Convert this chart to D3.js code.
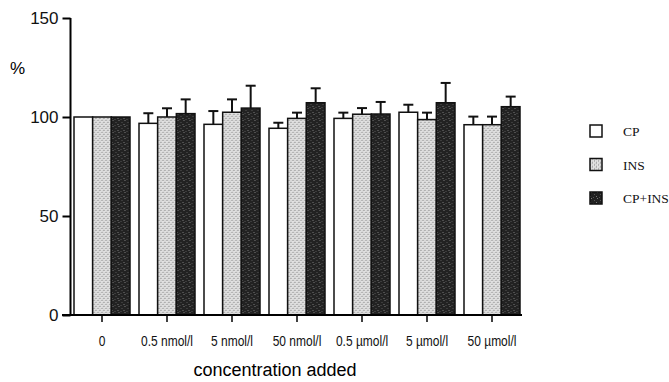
<!DOCTYPE html>
<html>
<head>
<meta charset="utf-8">
<script src="https://cdn.jsdelivr.net/npm/d3@7"></script>
<style>
  body { margin: 0; background: #fff; }
  svg { display: block; }
</style>
</head>
<body>
<div id="chart"></div>
<script>
const categories = ['0', '0.5 nmol/l', '5 nmol/l', '50 nmol/l', '0.5 µmol/l', '5 µmol/l', '50 µmol/l'];
const seriesNames = ['CP', 'INS', 'CP+INS'];
const cpValues     = [100, 96.8, 96.3, 94.3, 99.3, 102.4, 96.1];
const cpErrors     = [0, 5.1, 6.7, 2.8, 2.9, 3.8, 4.1];
const insValues    = [100, 100, 102.4, 99.3, 101.4, 98.7, 96.1];
const insErrors    = [0, 4.4, 6.5, 2.9, 3.1, 3.5, 4.1];
const cpInsValues  = [100, 101.7, 104.5, 107.2, 101.5, 107.2, 105.2];
const cpInsErrors  = [0, 7.2, 11.3, 7.3, 6.1, 10.0, 5.1];
const yTicks = [0, 50, 100, 150];

const width = 669, height = 382;
const svg = d3.select('#chart').append('svg')
  .attr('width', width)
  .attr('height', height);

// stipple patterns, like the scanned print
const defs = svg.append('defs');
const light = defs.append('pattern')
  .attr('id', 'pat-ins').attr('patternUnits', 'userSpaceOnUse')
  .attr('width', 4).attr('height', 4);
light.append('rect').attr('width', 4).attr('height', 4).attr('fill', '#e2e2e2');
[[0, 0], [2, 2], [2, 0.5], [0.5, 2.5]].forEach(([px, py], i) => {
  light.append('rect').attr('x', px).attr('y', py).attr('width', 1).attr('height', 1)
    .attr('fill', i < 2 ? '#888' : '#b5b5b5');
});
const dark = defs.append('pattern')
  .attr('id', 'pat-cpins').attr('patternUnits', 'userSpaceOnUse')
  .attr('width', 6).attr('height', 6);
dark.append('rect').attr('width', 6).attr('height', 6).attr('fill', '#222');
[[1, 0], [4, 2], [0, 4], [3, 5]].forEach(([px, py], i) => {
  dark.append('rect').attr('x', px).attr('y', py).attr('width', 1).attr('height', 1)
    .attr('fill', i % 2 ? '#555' : '#7a7a7a');
});
const fills = ['#ffffff', 'url(#pat-ins)', 'url(#pat-cpins)'];

const x = d3.scaleBand().domain(categories).range([69.5, 524.5]).padding(0);
const xSub = d3.scaleBand().domain(seriesNames).range([4.5, 60.5]).padding(0);
const y = d3.scaleLinear().domain([0, 150]).range([315, 18]);

const rows = categories.map((c, i) => ({
  cat: c,
  bars: [
    { name: 'CP', value: cpValues[i], err: cpErrors[i] },
    { name: 'INS', value: insValues[i], err: insErrors[i] },
    { name: 'CP+INS', value: cpInsValues[i], err: cpInsErrors[i] }
  ]
}));

const groups = svg.selectAll('g.grp')
  .data(rows)
  .enter()
  .append('g')
  .attr('class', 'grp')
  .attr('transform', d => `translate(${x(d.cat)},0)`);

// error bars (upper only) drawn first so the bar outline sits over them
groups.selectAll('g.err')
  .data(d => d.bars.filter(b => b.err > 0))
  .enter()
  .append('g')
  .attr('class', 'err')
  .each(function (d) {
    const g = d3.select(this);
    const cx = xSub(d.name) + xSub.bandwidth() / 2;
    g.append('line')
      .attr('x1', cx).attr('x2', cx)
      .attr('y1', y(d.value)).attr('y2', y(d.value + d.err))
      .attr('stroke', '#111').attr('stroke-width', 2);
    g.append('line')
      .attr('x1', cx - 5).attr('x2', cx + 5)
      .attr('y1', y(d.value + d.err)).attr('y2', y(d.value + d.err))
      .attr('stroke', '#111').attr('stroke-width', 2);
  });

groups.selectAll('rect')
  .data(d => d.bars)
  .enter()
  .append('rect')
  .attr('x', d => xSub(d.name))
  .attr('y', d => y(d.value))
  .attr('width', xSub.bandwidth())
  .attr('height', d => y(0) - y(d.value))
  .attr('fill', (d, i) => fills[i])
  .attr('stroke', '#111')
  .attr('stroke-width', 1.5);

// y axis
const yAxis = svg.append('g')
  .attr('transform', 'translate(70.5,0)')
  .call(d3.axisLeft(y).tickValues(yTicks).tickSize(8).tickPadding(4));
yAxis.select('.domain').attr('d', `M0,${y(150)}V${y(0)}`).attr('stroke-width', 2);
yAxis.selectAll('.tick line').attr('stroke-width', 2);
yAxis.selectAll('text')
  .style('font-family', '"Liberation Sans", Arial, sans-serif')
  .style('font-size', '17px')
  .attr('fill', '#111');

// x axis, labels squeezed to mimic the narrow print face
const xAxis = svg.append('g')
  .attr('transform', `translate(0,${y(0)})`)
  .call(d3.axisBottom(x).tickSize(7).tickPadding(13));
xAxis.select('.domain').attr('d', 'M62,0H522').attr('stroke-width', 2);
xAxis.selectAll('.tick line').attr('stroke-width', 1.5);
xAxis.selectAll('text')
  .style('font-family', '"Liberation Sans", Arial, sans-serif')
  .style('font-size', '15px')
  .attr('transform', 'scale(0.8,1)')
  .attr('fill', '#111');

svg.append('text')
  .attr('x', 10).attr('y', 74)
  .style('font-family', '"Liberation Sans", Arial, sans-serif')
  .style('font-size', '17px')
  .text('%');

svg.append('text')
  .attr('x', 275).attr('y', 376)
  .attr('text-anchor', 'middle')
  .style('font-family', '"Liberation Sans", Arial, sans-serif')
  .style('font-size', '18px')
  .text('concentration added');

// legend
const legendY = d3.scalePoint().domain(seriesNames).range([131, 198]);
const legend = svg.selectAll('g.leg')
  .data(seriesNames)
  .enter()
  .append('g')
  .attr('class', 'leg')
  .attr('transform', d => `translate(590,${legendY(d)})`);
legend.append('rect')
  .attr('x', 0).attr('y', -6)
  .attr('width', 12).attr('height', 12)
  .attr('fill', (d, i) => fills[i])
  .attr('stroke', '#111').attr('stroke-width', 1.5);
legend.append('text')
  .attr('x', 33).attr('y', 5)
  .style('font-family', '"Liberation Serif", "Times New Roman", serif')
  .style('font-size', '13.5px')
  .attr('fill', '#111')
  .text(d => d);
</script>
</body>
</html>
